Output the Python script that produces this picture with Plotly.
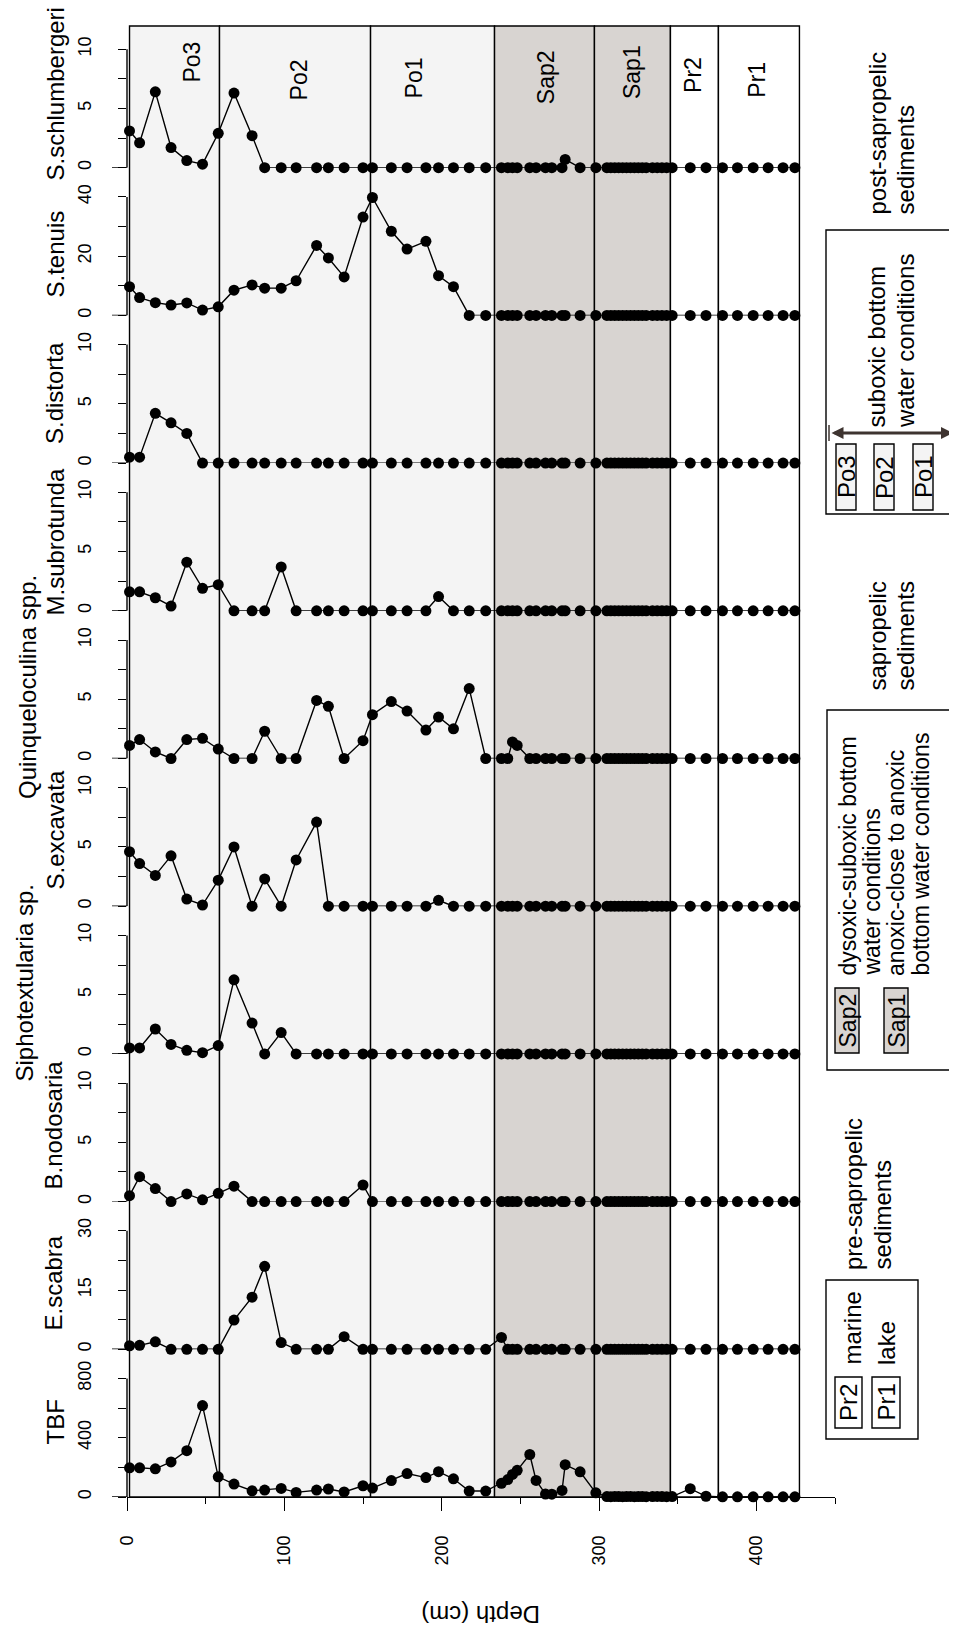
import plotly.graph_objects as go

# ---------------- data ----------------
depth = [1.6, 8, 18, 28, 38, 48, 58, 68, 79.5, 87.5, 98, 107.5, 120.5, 128, 138, 150, 156, 168, 178, 190, 198, 207.5, 217.5, 228,
         238, 242, 245, 248, 256, 260, 266, 270, 276.5, 278.5, 288, 298,
         305, 307.5, 310, 312.5, 315, 317.5, 320, 322.5, 325, 327.5, 330, 334, 337, 340, 343, 346.5,
         358, 368,
         378.5, 388, 398, 407.5, 417, 424.5]

species = ["S.schlumbergeri", "S.tenuis", "S.distorta", "M.subrotunda", "Quinqueloculina spp.",
           "S.excavata", "Siphotextularia sp.", "B.nodosaria", "E.scabra", "TBF"]

s_schlumbergeri = [3.1, 2.1, 6.4, 1.7, 0.6, 0.3, 2.9, 6.3, 2.7, 0, 0, 0, 0, 0, 0, 0, 0, 0, 0, 0, 0, 0, 0, 0,
                   0, 0, 0, 0, 0, 0, 0, 0, 0, 0.7, 0, 0,
                   0, 0, 0, 0, 0, 0, 0, 0, 0, 0, 0, 0, 0, 0, 0, 0,
                   0, 0,
                   0, 0, 0, 0, 0, 0]
s_tenuis = [9.7, 6.0, 4.3, 3.5, 4.2, 1.8, 2.9, 8.5, 10.3, 9.2, 9.2, 11.7, 23.6, 19.4, 13.0, 33.2, 39.8, 28.4, 22.4, 25.0, 13.4, 9.7, 0, 0,
            0, 0, 0, 0, 0, 0, 0, 0, 0, 0, 0, 0,
            0, 0, 0, 0, 0, 0, 0, 0, 0, 0, 0, 0, 0, 0, 0, 0,
            0, 0,
            0, 0, 0, 0, 0, 0]
s_distorta = [0.5, 0.5, 4.2, 3.4, 2.5, 0, 0, 0, 0, 0, 0, 0, 0, 0, 0, 0, 0, 0, 0, 0, 0, 0, 0, 0,
              0, 0, 0, 0, 0, 0, 0, 0, 0, 0, 0, 0,
              0, 0, 0, 0, 0, 0, 0, 0, 0, 0, 0, 0, 0, 0, 0, 0,
              0, 0,
              0, 0, 0, 0, 0, 0]
m_subrotunda = [1.6, 1.6, 1.1, 0.4, 4.1, 1.9, 2.2, 0, 0, 0, 3.7, 0, 0, 0, 0, 0, 0, 0, 0, 0, 1.2, 0, 0, 0,
                0, 0, 0, 0, 0, 0, 0, 0, 0, 0, 0, 0,
                0, 0, 0, 0, 0, 0, 0, 0, 0, 0, 0, 0, 0, 0, 0, 0,
                0, 0,
                0, 0, 0, 0, 0, 0]
quinqueloculina = [1.1, 1.6, 0.55, 0, 1.6, 1.7, 0.8, 0, 0, 2.3, 0, 0, 4.9, 4.4, 0, 1.5, 3.7, 4.8, 4.0, 2.4, 3.5, 2.5, 5.9, 0,
                   0, 0, 1.4, 1.1, 0, 0, 0, 0, 0, 0, 0, 0,
                   0, 0, 0, 0, 0, 0, 0, 0, 0, 0, 0, 0, 0, 0, 0, 0,
                   0, 0,
                   0, 0, 0, 0, 0, 0]
s_excavata = [4.6, 3.6, 2.6, 4.25, 0.6, 0.1, 2.2, 5.0, 0, 2.3, 0, 3.9, 7.1, 0, 0, 0, 0, 0, 0, 0, 0.5, 0, 0, 0,
              0, 0, 0, 0, 0, 0, 0, 0, 0, 0, 0, 0,
              0, 0, 0, 0, 0, 0, 0, 0, 0, 0, 0, 0, 0, 0, 0, 0,
              0, 0,
              0, 0, 0, 0, 0, 0]
siphotextularia = [0.5, 0.5, 2.1, 0.8, 0.3, 0.1, 0.7, 6.25, 2.6, 0, 1.8, 0, 0, 0, 0, 0, 0, 0, 0, 0, 0, 0, 0, 0,
                   0, 0, 0, 0, 0, 0, 0, 0, 0, 0, 0, 0,
                   0, 0, 0, 0, 0, 0, 0, 0, 0, 0, 0, 0, 0, 0, 0, 0,
                   0, 0,
                   0, 0, 0, 0, 0, 0]
b_nodosaria = [0.5, 2.1, 1.1, 0, 0.65, 0.15, 0.7, 1.3, 0, 0, 0, 0, 0, 0, 0, 1.4, 0, 0, 0, 0, 0, 0, 0, 0,
               0, 0, 0, 0, 0, 0, 0, 0, 0, 0, 0, 0,
               0, 0, 0, 0, 0, 0, 0, 0, 0, 0, 0, 0, 0, 0, 0, 0,
               0, 0,
               0, 0, 0, 0, 0, 0]
e_scabra = [0.9, 1.0, 1.9, 0, 0, 0, 0, 7.4, 13.2, 21.0, 1.7, 0, 0, 0, 3.2, 0, 0, 0, 0, 0, 0, 0, 0, 0,
            3.0, 0, 0, 0, 0, 0, 0, 0, 0, 0, 0, 0,
            0, 0, 0, 0, 0, 0, 0, 0, 0, 0, 0, 0, 0, 0, 0, 0,
            0, 0,
            0, 0, 0, 0, 0, 0]
tbf = [197, 197, 190, 237, 313, 617, 136, 87, 42, 47, 58, 31, 47, 54, 34, 76, 60, 111, 158, 131, 171, 123, 40, 40,
       92, 118, 152, 180, 287, 112, 20, 19, 44, 218, 170, 28,
       3, 2, 4, 3, 2, 3, 4, 2, 3, 3, 2, 3, 4, 3, 2, 3,
       56, 5,
       1, 1, 1, 1, 1, 1]

axis_max = [10, 40, 10, 10, 10, 10, 10, 10, 30, 800]
label_ticks = [[0, 5, 10], [0, 20, 40], [0, 5, 10], [0, 5, 10], [0, 5, 10],
               [0, 5, 10], [0, 5, 10], [0, 5, 10], [0, 15, 30], [0, 400, 800]]
minor_ticks = [[2.5, 7.5], [10, 30], [2.5, 7.5], [2.5, 7.5], [2.5, 7.5],
               [2.5, 7.5], [2.5, 7.5], [2.5, 7.5], [7.5, 22.5], [200, 600]]

depth_major = [0, 100, 200, 300, 400]
depth_minor = [50, 150, 250, 350, 450]

zone_names = ["Po3", "Po2", "Po1", "Sap2", "Sap1", "Pr2", "Pr1"]
zone_edges = [1.6, 58.8, 154.8, 233.6, 297.1, 345.4, 375.9, 427.4]
zone_fill = ["#f4f4f4", "#f4f4f4", "#f4f4f4", "#d8d4d1", "#d8d4d1", "#ffffff", "#ffffff"]
zone_label_depth = [41, 109.6, 182.7, 266.4, 321.3, 359.4, 399.9]
zone_label_ypx = [62, 80, 78, 77, 72.5, 74.5, 79.5]

series = [s_schlumbergeri, s_tenuis, s_distorta, m_subrotunda, quinqueloculina,
          s_excavata, siphotextularia, b_nodosaria, e_scabra, tbf]

# ---------------- layout geometry ----------------
OFF = 8  # page body margin
W, H = 957 - OFF, 1634 - OFF
ML, MR, MT, MB = 119, 122, 12, 137
PW = W - ML - MR
PH = H - MT - MB
FONT = "Liberation Sans, Arial, Helvetica, sans-serif"
PAD = 1.2464  # range headroom above max tick


def px_x(px):
    return (px - OFF - ML) / PW


def px_y(py):
    return (H - MB - (py - OFF)) / PH


n = len(species)
fig = go.Figure()
shapes = []
annotations = []

# zone background rectangles
for z in range(len(zone_names)):
    shapes.append(dict(type="rect", xref="x", yref="paper",
                       x0=zone_edges[z], x1=zone_edges[z + 1], y0=0, y1=px_y(26),
                       fillcolor=zone_fill[z], line=dict(color="black", width=1.4), layer="below"))
    annotations.append(dict(text=zone_names[z], xref="x", yref="paper", x=zone_label_depth[z],
                            y=px_y(zone_label_ypx[z]), xanchor="center", yanchor="middle",
                            textangle=-90, showarrow=False,
                            font=dict(family=FONT, size=23, color="black")))

for i, (name, vals) in enumerate(zip(species, series)):
    ykey = "y" if i == 0 else "y%d" % (i + 1)
    axkey = "yaxis" if i == 0 else "yaxis%d" % (i + 1)
    fig.add_trace(go.Scatter(x=depth, y=vals, xaxis="x", yaxis=ykey, mode="lines+markers",
                             line=dict(color="black", width=1.4),
                             marker=dict(color="black", size=11),
                             cliponaxis=False, showlegend=False, hoverinfo="skip", name=name))
    fig.layout[axkey] = dict(
        domain=[1 - (i + 1) / n, 1 - i / n], range=[0, axis_max[i] * PAD], anchor="x",
        showgrid=False, zeroline=False, showline=False,
        tickmode="array", tickvals=label_ticks[i], ticktext=[str(v) for v in label_ticks[i]],
        ticks="outside", ticklen=8, tickwidth=1.3, tickcolor="black", tickangle=-90,
        ticklabelstandoff=20,
        minor=dict(tickmode="array", tickvals=minor_ticks[i], ticks="outside", ticklen=8,
                   tickwidth=1.3, tickcolor="black"),
        tickfont=dict(family=FONT, size=18, color="black"),
    )
    # axis line over the tick range and long zero tick
    shapes.append(dict(type="line", xref="paper", yref=ykey, x0=0, x1=0, y0=0, y1=axis_max[i],
                       line=dict(color="black", width=1.4)))
    shapes.append(dict(type="line", xref="paper", yref=ykey, x0=px_x(112), x1=0, y0=0, y1=0,
                       line=dict(color="black", width=1.4)))

fig.update_layout(
    xaxis=dict(domain=[0, 1], range=[0, 450], anchor="y10", showgrid=False, zeroline=False,
               showline=True, linecolor="black", linewidth=1.4,
               tickmode="array", tickvals=depth_major, ticktext=[str(v) for v in depth_major],
               ticks="outside", ticklen=13, tickwidth=1.3, tickcolor="black", tickangle=-90,
               ticklabelstandoff=17,
               minor=dict(tickmode="array", tickvals=depth_minor, ticks="outside", ticklen=6,
                          tickwidth=1.3, tickcolor="black"),
               tickfont=dict(family=FONT, size=18, color="black")),
)

# panel titles (rotated), positions in page pixels: (center x, bottom y)
title_pos = [(55, 183), (55, 300), (55, 446), (55, 618), (27, 801),
             (55, 892), (24, 1084), (53, 1192), (53, 1333), (55, 1447)]
for name, (cx, by) in zip(species, title_pos):
    annotations.append(dict(text=name, xref="paper", yref="paper", x=px_x(cx), y=px_y(by),
                            xanchor="center", yanchor="bottom", textangle=-90, showarrow=False,
                            font=dict(family=FONT, size=24, color="black")))

# depth axis title (upside down)
annotations.append(dict(text="Depth (cm)", xref="paper", yref="paper", x=px_x(481), y=px_y(1615),
                        xanchor="center", yanchor="middle",
                        textangle=180, showarrow=False, font=dict(family=FONT, size=24, color="black")))


# ---------------- legend (drawn in page-pixel space) ----------------
def rect(x0, y0, x1, y1, fill="rgba(0,0,0,0)", w=1.4):
    shapes.append(dict(type="rect", xref="paper", yref="paper", x0=px_x(x0), x1=px_x(x1),
                       y0=px_y(y1), y1=px_y(y0), fillcolor=fill, line=dict(color="black", width=w)))


def vtext(txt, cx, by, size=24, anchor="bottom"):
    annotations.append(dict(text=txt, xref="paper", yref="paper", x=px_x(cx), y=px_y(by),
                            xanchor="center", yanchor=anchor, textangle=-90, showarrow=False,
                            font=dict(family=FONT, size=size, color="black")))


# post-sapropelic
vtext("post-sapropelic", 877, 217)
vtext("sediments", 905, 217)
rect(826, 230, 956, 514)
vtext("suboxic bottom", 876, 430)
vtext("water conditions", 905, 430)
annotations.append(dict(text="", xref="paper", yref="paper", x=px_x(953), y=px_y(433),
                        ax=-(953 - 830), ay=0, showarrow=True, arrowhead=2, arrowside="end+start",
                        arrowwidth=3, arrowsize=0.8, arrowcolor="#3e3430", standoff=0, startstandoff=0))
for xx in (829, 954):
    shapes.append(dict(type="line", xref="paper", yref="paper", x0=px_x(xx), x1=px_x(xx),
                       y0=px_y(441), y1=px_y(425), line=dict(color="#3e3430", width=1.5)))
for lab, x0 in zip(["Po3", "Po2", "Po1"], [836, 874, 913]):
    rect(x0, 444, x0 + 20, 510, fill="#f4f4f4")
    vtext(lab, x0 + 10, 477, anchor="middle")

# sapropelic
vtext("sapropelic", 877, 693)
vtext("sediments", 905, 693)
rect(827, 710, 952, 1070)
vtext("dysoxic-suboxic bottom", 847, 978, size=23)
vtext("water conditions", 871, 978, size=23)
vtext("anoxic-close to anoxic", 896, 978, size=23)
vtext("bottom water conditions", 920, 978, size=23)
rect(835, 988, 859, 1053, fill="#d8d4d1")
vtext("Sap2", 847, 1020.5, size=23, anchor="middle")
rect(884, 988, 908, 1053, fill="#d8d4d1")
vtext("Sap1", 896, 1020.5, size=23, anchor="middle")

# pre-sapropelic
vtext("pre-sapropelic", 853, 1272)
vtext("sediments", 882, 1272)
rect(826, 1280, 918, 1439)
vtext("marine", 852, 1367)
vtext("lake", 886, 1367)
rect(835, 1377, 862, 1428, fill="#ffffff")
vtext("Pr2", 848.5, 1402.5, anchor="middle")
rect(872, 1377, 900, 1428, fill="#ffffff")
vtext("Pr1", 886, 1402.5, anchor="middle")

fig.update_layout(
    width=W, height=H, margin=dict(l=ML, r=MR, t=MT, b=MB, autoexpand=False),
    paper_bgcolor="white", plot_bgcolor="white",
    shapes=shapes, annotations=annotations, showlegend=False,
    font=dict(family=FONT, color="black"),
)

fig.write_html("out.html")
